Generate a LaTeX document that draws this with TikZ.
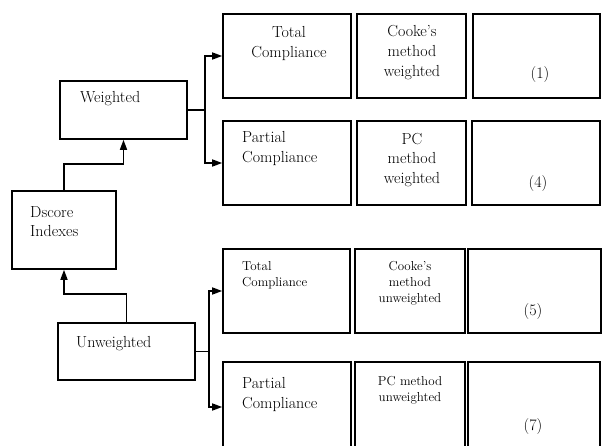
\documentclass[tikz,border=0pt]{standalone}
\usetikzlibrary{arrows.meta}

\begin{document}
\begin{tikzpicture}[x=1pt,y=1pt,
    box/.style={draw, line width=1.6pt, inner sep=0pt},
    link/.style={line width=1.6pt},
    arr/.style={line width=1.6pt, -{Triangle[length=10pt,width=7pt]}},
    bigtxt/.style={font=\fontsize{16}{20}\selectfont, inner sep=0pt},
    smalltxt/.style={font=\fontsize{13}{16}\selectfont, inner sep=0pt}]
  \useasboundingbox (0,0) rectangle (602,445);

  % Left column
  \node[box, minimum width=127pt, minimum height=58pt] (wgt) at (123.5,335) {};
  \node[box, minimum width=104pt, minimum height=78pt] (dsc) at (64,215) {};
  \node[box, minimum width=137pt, minimum height=57pt] (unw) at (126.5,93.5) {};
  \node[bigtxt, anchor=base west] (wgtT) at (80,342) {Weighted};
  \node[bigtxt, anchor=base west, align=left] (dscT) at (30,208) {Dscore\\Indexes};
  \node[bigtxt, anchor=base west] (unwT) at (76,98) {Unweighted};

  % Weighted rows
  \node[box, minimum width=128pt, minimum height=84pt] (tc1) at (287,389) {};
  \node[box, minimum width=109pt, minimum height=84pt] (ck1) at (411.5,389) {};
  \node[box, minimum width=127pt, minimum height=84pt] (r1) at (536.5,389) {};
  \node[bigtxt, anchor=base, align=center] (tc1T) at (289,387) {Total\\Compliance};
  \node[bigtxt, anchor=base, align=center] (ck1T) at (412,368) {Cooke's\\method\\weighted};
  \node[bigtxt, anchor=base] (r1T) at (540,366) {(1)};

  \node[box, minimum width=128pt, minimum height=84pt] (pc2) at (287,282) {};
  \node[box, minimum width=109pt, minimum height=84pt] (pm2) at (411.5,282) {};
  \node[box, minimum width=128pt, minimum height=84pt] (r4) at (536,282) {};
  \node[bigtxt, anchor=base west, align=left] (pc2T) at (242,282) {Partial\\Compliance};
  \node[bigtxt, anchor=base, align=center] (pm2T) at (412,261) {PC\\method\\weighted};
  \node[bigtxt, anchor=base] (r4T) at (538,257) {(4)};

  % Unweighted rows
  \node[box, minimum width=127pt, minimum height=84pt] (tc3) at (286.5,154) {};
  \node[box, minimum width=110pt, minimum height=84pt] (ck3) at (410,154) {};
  \node[box, minimum width=133pt, minimum height=84pt] (r5) at (534.5,154) {};
  \node[smalltxt, anchor=base west, align=left] (tc3T) at (242,159) {Total\\Compliance};
  \node[smalltxt, anchor=base, align=center] (ck3T) at (410,143) {Cooke's\\method\\unweighted};
  \node[bigtxt, anchor=base] (r5T) at (533,130) {(5)};

  \node[box, minimum width=128pt, minimum height=90pt] (pc4) at (287,38) {};
  \node[box, minimum width=110pt, minimum height=90pt] (pm4) at (410,38) {};
  \node[box, minimum width=132pt, minimum height=90pt] (r7) at (534,38) {};
  \node[bigtxt, anchor=base west, align=left] (pc4T) at (242,37) {Partial\\Compliance};
  \node[smalltxt, anchor=base, align=center] (pm4T) at (410,44) {PC method\\unweighted};
  \node[bigtxt, anchor=base] (r7T) at (533,15) {(7)};

  % Connectors
  \coordinate (wfork) at (205,335);
  \draw[link] (wgt.east) -- (wfork);
  \draw[arr] (wfork) |- (tc1.west);
  \draw[arr] (wfork) |- (pc2.west);
  \draw[arr] (dsc.north) -- ++(0,26) -| (wgt.south);
  \draw[arr] (unw.north) -- ++(0,28) -| (dsc.south);
  \coordinate (ufork) at (209,93.5);
  \draw[link] (unw.east) -- (ufork);
  \draw[arr] (ufork) |- (tc3.west);
  \draw[arr] (ufork) |- (pc4.west);
\end{tikzpicture}
\end{document}
